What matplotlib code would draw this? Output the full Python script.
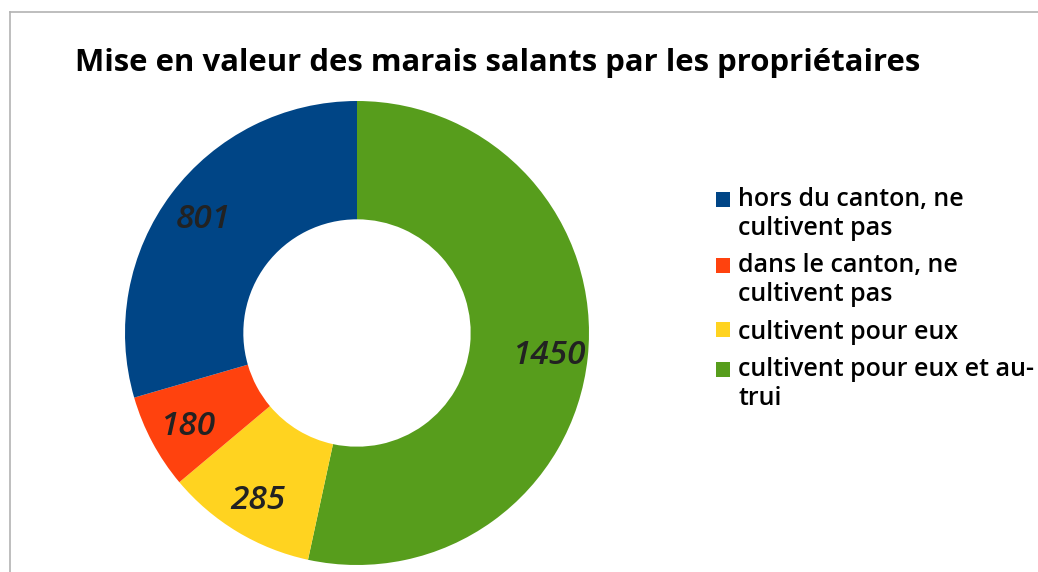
import matplotlib
matplotlib.use("Agg")
import matplotlib.pyplot as plt
from matplotlib.lines import Line2D
from matplotlib.patches import Patch, Rectangle
from matplotlib.legend_handler import HandlerPatch
import numpy as np

# propriétaires de marais salants, par mode de mise en valeur
categories = [
    "cultivent pour eux et au-\ntrui",
    "cultivent pour eux",
    "dans le canton, ne\ncultivent pas",
    "hors du canton, ne\ncultivent pas",
]
values = [1450, 285, 180, 801]
colors = ["#579d1c", "#ffd320", "#ff420e", "#004586"]

title = "Mise en valeur des marais salants par les propriétaires"

plt.rcParams["font.family"] = ["Open Sans", "DejaVu Sans"]

fig = plt.figure(figsize=(10.38, 5.72), dpi=100)

# cadre gris en haut et à gauche
fig.add_artist(Line2D([10 / 1038, 1.0], [560 / 572, 560 / 572], color="#b3b3b3", lw=1.2))
fig.add_artist(Line2D([10 / 1038, 10 / 1038], [0.0, 560 / 572], color="#b3b3b3", lw=1.2))

fig.text(75 / 1038, 1 - 63 / 572, title, fontsize=22.4, fontweight="bold",
         va="center", ha="left", color="black")

ax = fig.add_axes([125 / 1038, 7 / 572, 464 / 1038, 464 / 572])
wedges, _ = ax.pie(values, colors=colors, startangle=90, counterclock=False,
                   radius=1.0, wedgeprops=dict(width=0.51, linewidth=0))
ax.set_aspect("equal")
ax.set_xlim(-1, 1)
ax.set_ylim(-1, 1)
ax.axis("off")

total = sum(values)
angle = 90.0
for v in values:
    sweep = 360.0 * v / total
    mid = np.deg2rad(angle - sweep / 2)
    angle -= sweep
    ax.text(0.83 * np.cos(mid), 0.83 * np.sin(mid) - 0.01, str(v), ha="center", va="center",
            fontsize=24, style="italic", fontweight="semibold", color="#222222")


# carré de légende calé sur la première ligne du libellé
def first_line_patch(nlines):
    def make(legend, orig_handle, xdescent, ydescent, width, height, fontsize):
        shift = (nlines - 1) * 0.6 * fontsize
        return Rectangle((-xdescent, -ydescent + shift), width, height)
    return HandlerPatch(patch_func=make)


handles = [Patch(facecolor=c, edgecolor="none") for c in colors[::-1]]
labels = categories[::-1]
hmap = {h: first_line_patch(lab.count("\n") + 1) for h, lab in zip(handles, labels)}
fig.legend(handles, labels, handler_map=hmap, loc="upper left",
           bbox_to_anchor=(716 / 1038, 1 - 187 / 572), frameon=False,
           prop=dict(size=18, weight="semibold"), handlelength=0.55, handleheight=0.55,
           handletextpad=0.35, labelspacing=0.5, borderpad=0, borderaxespad=0)

fig.savefig("out.png", dpi=100)
